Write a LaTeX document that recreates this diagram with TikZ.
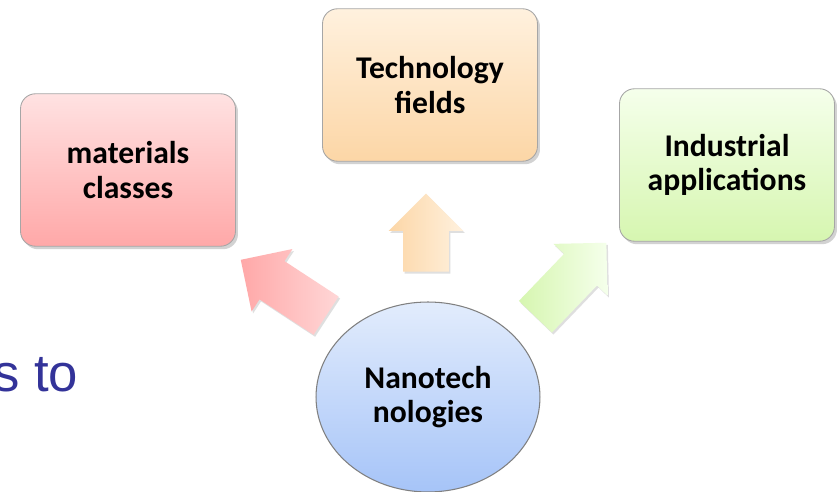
\documentclass[tikz,border=0pt]{standalone}
\usepackage{fontspec}
\setmainfont{Carlito}
\newfontfamily\titlefont{Liberation Sans}
\usetikzlibrary{shapes.arrows,shapes.geometric,shadows}

\definecolor{pinkTop}{RGB}{255,226,226}
\definecolor{pinkBot}{RGB}{255,168,168}
\definecolor{orangeTop}{RGB}{255,241,222}
\definecolor{orangeBot}{RGB}{252,214,166}
\definecolor{greenTop}{RGB}{245,255,235}
\definecolor{greenBot}{RGB}{214,246,176}
\definecolor{blueTop}{RGB}{226,236,252}
\definecolor{blueBot}{RGB}{166,196,248}
\definecolor{titleblue}{RGB}{51,51,153}

\begin{document}
\begin{tikzpicture}[
    x=0.02cm, y=-0.02cm,
    box/.style={rectangle, rounded corners=0.3cm, draw=black!35, line width=0.5pt,
        minimum width=4.3cm, minimum height=3.05cm, align=center,
        font=\bfseries\fontsize{18}{19.5}\selectfont,
        drop shadow={shadow xshift=0.05cm, shadow yshift=-0.06cm, opacity=0.35}},
    hub/.style={ellipse, draw=black!50, line width=0.6pt,
        minimum width=4.48cm, minimum height=3.8cm, align=center,
        font=\bfseries\fontsize{18}{19.5}\selectfont},
    blockarrow/.style={single arrow, draw=none, inner xsep=0pt, inner ysep=0.45cm,
        single arrow head extend=0.29cm,
        drop shadow={shadow xshift=0.03cm, shadow yshift=-0.04cm, opacity=0.25}}
]

\fill[white] (0,0) rectangle (840,492);
\useasboundingbox (0,0) rectangle (840,492);

\node[text=titleblue, font=\titlefont\fontsize{30}{36}\selectfont,
    anchor=base west] (title) at (-13,392) {s to};

\node[box, top color=pinkTop, bottom color=pinkBot] (mat) at (128,170) {materials\\classes};
\node[box, top color=orangeTop, bottom color=orangeBot] (tech) at (430,85) {Technology\\fields};
\node[box, top color=greenTop, bottom color=greenBot] (ind) at (727,165) {Industrial\\applications};

\node[hub, top color=blueTop, bottom color=blueBot] (nano) at (428,397) {Nanotech\\nologies};

\node[blockarrow, minimum height=2.04cm, rotate=146.8,
    left color=pinkBot, right color=pinkTop!80!pinkBot] (arrMat) at (293,294) {};
\node[blockarrow, minimum height=1.56cm, rotate=90,
    left color=orangeBot, right color=orangeTop] (arrTech) at (426,244) {};
\node[blockarrow, minimum height=2.05cm, rotate=46.2,
    left color=greenBot, right color=greenTop] (arrInd) at (563,288) {};

\end{tikzpicture}
\end{document}
